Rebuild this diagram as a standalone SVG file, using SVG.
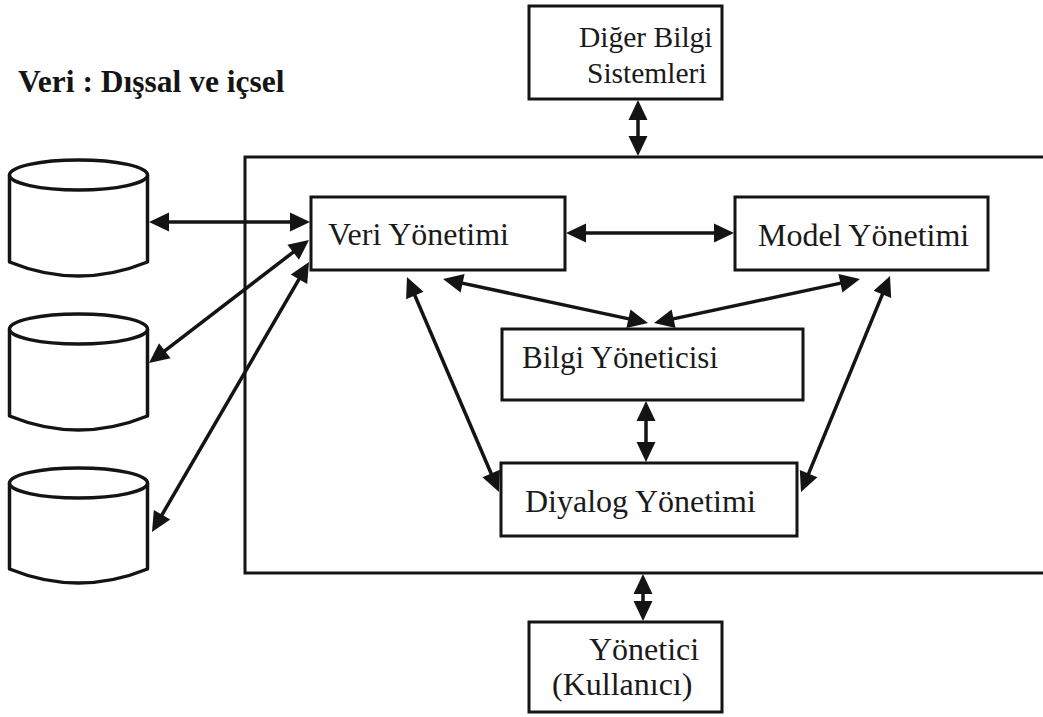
<svg xmlns="http://www.w3.org/2000/svg" width="1043" height="717" viewBox="0 0 1043 717">
  <style>
    .box { fill: #fff; stroke: #141414; stroke-width: 3; }
    .frame { fill: none; stroke: #141414; stroke-width: 3; }
    .cyl { fill: #fff; stroke: #141414; stroke-width: 3.5; stroke-linejoin: round; }
    .lbl { font-family: "Liberation Serif", "Times New Roman", serif; font-size: 32px; fill: #1a1a1a; }
    .sm { font-size: 29.5px; }
    .md { font-size: 31px; }
    .title { font-family: "Liberation Serif", "Times New Roman", serif; font-size: 31.5px; font-weight: bold; fill: #141414; }
    .link { fill: none; stroke: #141414; stroke-width: 3.5; marker-start: url(#head); marker-end: url(#head); }
  </style>
  <defs>
    <marker id="head" viewBox="0 0 20 19" markerWidth="20" markerHeight="19" refX="10" refY="9.5" orient="auto-start-reverse" markerUnits="userSpaceOnUse" overflow="visible">
      <path d="M0,0 L20,9.5 L0,19 Z" fill="#141414"/>
    </marker>
  </defs>

  <rect width="1043" height="717" fill="#fff"/>

  <text class="title" x="18" y="92">Veri : Dışsal ve içsel</text>

  <!-- system boundary, open on the right -->
  <path class="frame" d="M1043,157 H245 V573 H1043"/>

  <!-- data stores -->
  <g id="store1">
    <path class="cyl" d="M9.5,175 V262 Q78.5,290 147.5,262 V175"/>
    <ellipse class="cyl" cx="78.5" cy="175" rx="69" ry="15"/>
  </g>
  <g id="store2">
    <path class="cyl" d="M9.5,329 V416 Q78.5,444 147.5,416 V329"/>
    <ellipse class="cyl" cx="78.5" cy="329" rx="69" ry="15"/>
  </g>
  <g id="store3">
    <path class="cyl" d="M9.5,483 V569 Q78.5,597 147.5,569 V483"/>
    <ellipse class="cyl" cx="78.5" cy="483" rx="69" ry="15"/>
  </g>

  <g id="diger">
    <rect class="box" x="529" y="6" width="193" height="93"/>
    <text class="lbl sm" x="579" y="47">Diğer Bilgi</text>
    <text class="lbl sm" x="587" y="83">Sistemleri</text>
  </g>

  <g id="veri">
    <rect class="box" x="311" y="197" width="254" height="73"/>
    <text class="lbl" x="328" y="245">Veri Yönetimi</text>
  </g>

  <g id="model">
    <rect class="box" x="735" y="197" width="253" height="73"/>
    <text class="lbl" x="758" y="246">Model Yönetimi</text>
  </g>

  <g id="bilgi">
    <rect class="box" x="502" y="329" width="301" height="71"/>
    <text class="lbl md" x="522" y="368">Bilgi Yöneticisi</text>
  </g>

  <g id="diyalog">
    <rect class="box" x="501" y="463" width="296" height="73"/>
    <text class="lbl" x="525" y="512">Diyalog Yönetimi</text>
  </g>

  <g id="yonetici">
    <rect class="box" x="529" y="622" width="193" height="90"/>
    <text class="lbl" x="589" y="660">Yönetici</text>
    <text class="lbl" x="552" y="695">(Kullanıcı)</text>
  </g>

  <g id="connectors">
    <line class="link" x1="638" y1="110" x2="638" y2="146"/>
    <line class="link" x1="643" y1="584" x2="643" y2="611"/>
    <line class="link" x1="646" y1="411" x2="646" y2="452"/>
    <line class="link" x1="159" y1="222" x2="300" y2="222"/>
    <line class="link" x1="576" y1="233" x2="724" y2="233"/>
    <line class="link" x1="156.9" y1="356.9" x2="301.1" y2="246.1"/>
    <line class="link" x1="157.0" y1="523.4" x2="304.0" y2="270.6"/>
    <line class="link" x1="452.8" y1="281.1" x2="638.2" y2="320.9"/>
    <line class="link" x1="850.2" y1="281.1" x2="663.8" y2="320.9"/>
    <line class="link" x1="410.9" y1="286.2" x2="495.1" y2="482.8"/>
    <line class="link" x1="886.2" y1="285.2" x2="804.8" y2="482.8"/>
  </g>
</svg>
